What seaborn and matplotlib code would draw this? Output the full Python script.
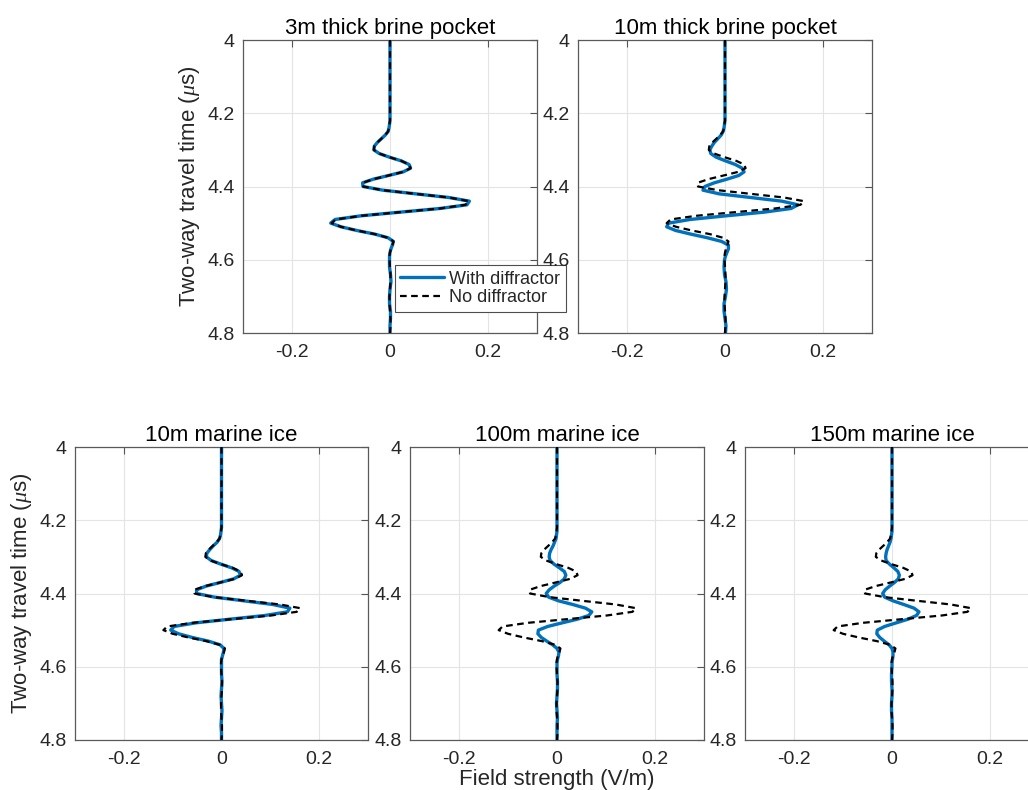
import numpy as np
import pandas as pd
import matplotlib
matplotlib.use("Agg")
import matplotlib.pyplot as plt
import seaborn as sns
from matplotlib.lines import Line2D

# ---------------- data ----------------
time_head = [4.00, 4.05, 4.10, 4.15]
time_mid = [round(4.20 + 0.01 * i, 2) for i in range(41)]
time_tail = [round(4.62 + 0.02 * i, 2) for i in range(10)]
time_us = time_head + time_mid + time_tail

head_zero = [0.000, 0.000, 0.000, 0.000]

no_diffractor = head_zero + [
    0.000, 0.000, 0.000, -0.001, -0.002, -0.004, -0.010, -0.018, -0.026, -0.032,
    -0.033, -0.022, -0.001, 0.023, 0.039, 0.042, 0.027, -0.003, -0.034, -0.056,
    -0.055, -0.015, 0.052, 0.120, 0.161, 0.154, 0.102, 0.021, -0.059, -0.111,
    -0.119, -0.100, -0.068, -0.031, -0.004, 0.007, 0.005, 0.002, 0.000, -0.001,
    -0.001] + [0.000, 0.001, 0.001, 0.000, -0.001, -0.001, 0.000, 0.001, 0.001, 0.000]

brine_3m = head_zero + [
    0.000, 0.000, 0.000, -0.001, -0.002, -0.004, -0.010, -0.018, -0.026, -0.032,
    -0.033, -0.022, -0.001, 0.023, 0.039, 0.042, 0.027, -0.003, -0.034, -0.056,
    -0.055, -0.015, 0.052, 0.120, 0.162, 0.157, 0.102, 0.021, -0.059, -0.112,
    -0.121, -0.100, -0.068, -0.031, -0.004, 0.007, 0.005, 0.002, 0.000, -0.001,
    -0.001] + [-0.001, 0.001, 0.002, 0.000, -0.001, -0.001, 0.001, 0.001, 0.000, 0.000]

brine_10m = head_zero + [
    0.000, 0.000, 0.000, -0.001, -0.002, -0.004, -0.008, -0.015, -0.022, -0.027,
    -0.031, -0.029, -0.018, 0.001, 0.021, 0.035, 0.039, 0.028, 0.004, -0.022,
    -0.041, -0.045, -0.012, 0.052, 0.116, 0.149, 0.135, 0.080, 0.003, -0.071,
    -0.115, -0.119, -0.101, -0.070, -0.036, -0.007, 0.007, 0.007, 0.004, 0.001,
    -0.001] + [-0.002, -0.001, 0.002, 0.003, 0.001, -0.002, -0.002, 0.000, 0.002, 0.001]

marine_10m = head_zero + [
    0.000, 0.000, 0.000, -0.001, -0.002, -0.004, -0.009, -0.017, -0.024, -0.030,
    -0.031, -0.021, -0.001, 0.021, 0.036, 0.039, 0.025, -0.003, -0.032, -0.051,
    -0.051, -0.014, 0.046, 0.105, 0.140, 0.135, 0.089, 0.018, -0.052, -0.097,
    -0.104, -0.088, -0.060, -0.027, -0.003, 0.005, 0.004, 0.002, 0.000, 0.000,
    0.000] + [0.000, 0.001, 0.000, -0.001, 0.000, 0.001, 0.000, -0.001, 0.000, 0.000]

marine_100m = head_zero + [
    0.000, 0.000, 0.000, 0.000, -0.001, -0.002, -0.005, -0.008, -0.012, -0.015,
    -0.016, -0.014, -0.006, 0.005, 0.015, 0.018, 0.015, 0.006, -0.006, -0.016,
    -0.022, -0.017, 0.003, 0.032, 0.058, 0.071, 0.065, 0.042, 0.011, -0.019,
    -0.038, -0.039, -0.032, -0.021, -0.009, 0.000, 0.004, 0.003, 0.001, 0.000,
    0.000] + [0.000, 0.001, 0.001, 0.000, -0.001, 0.000, 0.001, 0.000, 0.000, 0.000]

marine_150m = head_zero + [
    0.000, 0.000, 0.000, 0.000, -0.001, -0.002, -0.004, -0.007, -0.010, -0.012,
    -0.013, -0.012, -0.005, 0.004, 0.012, 0.015, 0.013, 0.005, -0.005, -0.014,
    -0.019, -0.015, 0.002, 0.024, 0.045, 0.055, 0.050, 0.033, 0.009, -0.015,
    -0.030, -0.031, -0.025, -0.016, -0.006, 0.000, 0.002, 0.002, 0.001, 0.000,
    0.000] + [-0.001, -0.001, 0.000, 0.000, -0.001, -0.001, 0.000, 0.000, 0.000, 0.000]

panel_titles = ["3m thick brine pocket", "10m thick brine pocket",
                "10m marine ice", "100m marine ice", "150m marine ice"]
panel_series = [brine_3m, brine_10m, marine_10m, marine_100m, marine_150m]
legend_labels = ["With diffractor", "No diffractor"]
x_ticks = [-0.2, 0.0, 0.2]
x_ticklabels = ["-0.2", "0", "0.2"]
y_ticks = [4.0, 4.2, 4.4, 4.6, 4.8]
y_ticklabels = ["4", "4.2", "4.4", "4.6", "4.8"]

# ---------------- style ----------------
sns.set_theme(style="white")
plt.rcParams["font.family"] = ["Liberation Sans", "DejaVu Sans"]
plt.rcParams["mathtext.fontset"] = "custom"
plt.rcParams["mathtext.rm"] = "Liberation Serif"
plt.rcParams["mathtext.it"] = "Liberation Serif:italic"
plt.rcParams["axes.unicode_minus"] = False

BLUE = "#0072BD"
DASH = (0, (3, 2))
TEXT = "#262626"

fig = plt.figure(figsize=(10.28, 7.90), dpi=100)
W, H = 1028.0, 790.0
# (left px, top px, right px, bottom px)
boxes = [(243, 40, 537, 333), (578, 40, 872, 333),
         (75, 447, 368, 740), (410, 447, 704, 740), (745, 447, 1039, 740)]

axes = []
for (l, t, r, b) in boxes:
    ax = fig.add_axes([l / W, (H - b) / H, (r - l) / W, (b - t) / H])
    axes.append(ax)

for ax, title, vals in zip(axes, panel_titles, panel_series):
    sns.lineplot(x=vals, y=time_us, orient="y", sort=False, estimator=None,
                 color=BLUE, lw=2.4, ax=ax, zorder=3)
    sns.lineplot(x=no_diffractor, y=time_us, orient="y", sort=False, estimator=None,
                 color="black", lw=1.6, linestyle=DASH, ax=ax, zorder=4)
    ax.set_xlim(-0.3, 0.3)
    ax.set_ylim(4.8, 4.0)
    ax.set_xticks(x_ticks)
    ax.set_xticklabels(x_ticklabels)
    ax.set_yticks(y_ticks)
    ax.set_yticklabels(y_ticklabels)
    ax.grid(True, color="#e4e4e4", lw=0.8)
    ax.set_axisbelow(True)
    ax.tick_params(direction="in", length=5, width=0.8, top=True, right=True,
                   colors="#555555", labelcolor=TEXT, labelsize=14)
    ax.tick_params(axis="y", pad=6)
    ax.tick_params(axis="x", pad=8)
    for s in ax.spines.values():
        s.set_color("#5a5a5a")
        s.set_linewidth(0.9)
    ax.set_xlabel("")
    ax.set_ylabel("")
    ax.set_title(title, fontsize=16, color="black", pad=4)

ylab = "Two-way travel time ($\\mu$s)"
axes[0].set_ylabel(ylab, fontsize=16, color=TEXT, labelpad=4)
axes[2].set_ylabel(ylab, fontsize=16, color=TEXT, labelpad=4)
axes[3].set_xlabel("Field strength (V/m)", fontsize=16, color=TEXT, labelpad=1)

handles = [Line2D([], [], color=BLUE, lw=2.4),
           Line2D([], [], color="black", lw=1.6, linestyle=DASH)]
leg = axes[0].legend(handles, legend_labels, loc="lower left",
                     bbox_to_anchor=(0.517, 0.072), borderaxespad=0,
                     fontsize=13, frameon=True, fancybox=False,
                     handlelength=2.4, handletextpad=0.3, labelspacing=0.1,
                     borderpad=0.3)
leg.get_frame().set_edgecolor("#4d4d4d")
leg.get_frame().set_linewidth(0.8)
leg.get_frame().set_facecolor("white")
leg.get_frame().set_alpha(1)
for txt in leg.get_texts():
    txt.set_color(TEXT)

fig.savefig("out.png", dpi=100)
